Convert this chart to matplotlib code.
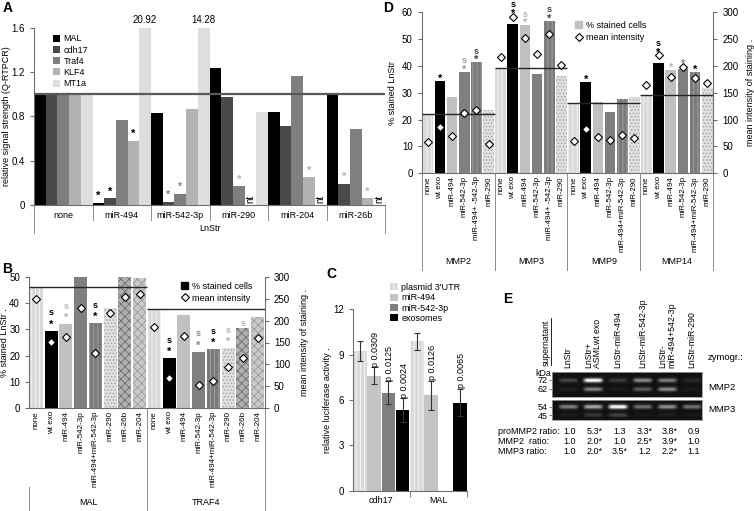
import numpy as np
import matplotlib
matplotlib.use('Agg')
import matplotlib.pyplot as plt
import matplotlib.transforms as mtransforms
from matplotlib.patches import Patch
from matplotlib.lines import Line2D

plt.rcParams['font.family'] = ['Liberation Sans', 'DejaVu Sans']
plt.rcParams['hatch.linewidth'] = 0.6
plt.rcParams['axes.edgecolor'] = '#6e6e6e'
plt.rcParams['xtick.color'] = '#6e6e6e'
plt.rcParams['ytick.color'] = '#6e6e6e'
plt.rcParams['xtick.labelcolor'] = 'black'
plt.rcParams['ytick.labelcolor'] = 'black'

W, H = 754, 511
nan = np.nan

# ---- panel A: Q-RTPCR ----
a_groups = ['none', 'miR-494', 'miR-542-3p', 'miR-290', 'miR-204', 'miR-26b']
a_genes = ['MAL', 'cdh17', 'Traf4', 'KLF4', 'MT1a']
a_colors = ['#000000', '#4a4a4a', '#7f7f7f', '#b3b3b3', '#dedede']
a_vals = {
    'MAL':   [1.0, 0.02, 0.83, 1.24, 0.84, 1.0],
    'cdh17': [1.0, 0.06, 0.03, 0.98, 0.71, 0.19],
    'Traf4': [1.0, 0.77, 0.10, 0.17, 1.17, 0.69],
    'KLF4':  [1.0, 0.58, 0.87, nan, 0.25, 0.06],
    'MT1a':  [1.0, 20.92, 14.28, 0.84, nan, nan],
}
# (group, gene, star colour)
a_stars = [(1, 0, 'black'), (1, 1, 'black'), (1, 3, 'black'),
           (2, 1, '#8a8a8a'), (2, 2, '#8a8a8a'),
           (3, 2, '#b5b5b5'), (4, 3, '#b5b5b5'),
           (5, 1, '#b5b5b5'), (5, 3, '#b5b5b5')]

# ---- panel B: staining, MAL / TRAF4 ----
b_groups = ['MAL', 'TRAF4']
b_cond = ['none', 'wt exo', 'miR-494', 'miR-542-3p', 'miR-494+miR-542-3p',
          'miR-290', 'miR-26b', 'miR-204']
b_pct = {'MAL':   [46.3, 29.5, 32.0, 50.0, 32.3, 38.0, 50.0, 49.7],
         'TRAF4': [37.8, 19.0, 35.5, 21.5, 22.4, 22.8, 30.6, 34.6]}
b_int = {'MAL':   [249, 152, 163, 229, 125, 217, 255, 262],
         'TRAF4': [186, 68, 165, 53, 62, 95, 115, 161]}
b_mark = {'MAL':   ['', 's*', 's*', '', 's*', '', '', ''],
          'TRAF4': ['', 's*', '', 's*', 's*', 's*', 's', '']}
b_mark_col = {'MAL':   [None, 'black', '#b5b5b5', None, 'black', None, None, None],
              'TRAF4': [None, 'black', None, '#8a8a8a', 'black', '#b5b5b5', '#b5b5b5', None]}

# ---- panel C: luciferase ----
c_groups = ['cdh17', 'MAL']
c_cond = ["plasmid 3'UTR", 'miR-494', 'miR-542-3p', 'exosomes']
c_mean = {'cdh17': [9.25, 7.62, 6.49, 5.34], 'MAL': [9.87, 6.31, nan, 5.82]}
c_err = {'cdh17': [0.68, 0.55, 0.74, 0.77], 'MAL': [0.55, 0.97, nan, 0.90]}
c_p = {'cdh17': ['', 'p 0.0309', 'p 0.0125', 'p 0.0024'],
       'MAL': ['', 'p 0.0126', '', 'p 0.0065']}

# ---- panel D: staining, MMPs ----
d_groups = ['MMP2', 'MMP3', 'MMP9', 'MMP14']
d_cond = ['none', 'wt exo', 'miR-494', 'miR-542-3p', 'miR-494+miR-542-3p', 'miR-290']
d_ticks = {'MMP2': ['none', 'wt exo', 'miR-494', 'miR-542-3p', 'miR-494+ -542-3p', 'miR-290'],
           'MMP3': ['none', 'wt exo', 'miR-494', 'miR-542-3p', 'miR-494+ -542-3p', 'miR-290'],
           'MMP9': d_cond, 'MMP14': d_cond}
d_pct = {'MMP2':  [22.2, 34.4, 28.6, 37.9, 41.3, 23.6],
         'MMP3':  [39.1, 55.5, 55.2, 37.0, 56.9, 36.3],
         'MMP9':  [26.3, 34.1, 26.6, 23.0, 27.7, 28.5],
         'MMP14': [29.2, 41.2, 38.4, 39.0, 37.6, 31.9]}
d_int = {'MMP2':  [59, 86, 70, 113, 118, 54],
         'MMP3':  [216, 292, 253, 222, 259, 202],
         'MMP9':  [61, 83, 67, 62, 72, 65],
         'MMP14': [164, 220, 180, 198, 177, 168]}
d_mark = {'MMP2':  ['', '*', '', 's*', 's*', ''],
          'MMP3':  ['', 's*', 's*', '', 's*', ''],
          'MMP9':  ['', '*', '', '', '', ''],
          'MMP14': ['', 's*', '*', '*', '*', '']}
d_mark_col = {'MMP2':  [None, 'black', None, '#9a9a9a', '#404040', None],
              'MMP3':  [None, 'black', '#b5b5b5', None, '#404040', None],
              'MMP9':  [None, 'black', None, None, None, None],
              'MMP14': [None, 'black', '#b5b5b5', '#8a8a8a', 'black', None]}

# ---- panel E: zymography ----
e_lanes = ['LnStr', 'LnStr+\nASMLwt exo', 'LnStr-miR-494', 'LnStr-miR-542-3p',
           'LnStr-\nmiR-494+542-3p', 'LnStr-miR-290']
e_mmp2_kda = [72, 62]
e_mmp2_level = [[0.22, 1.00, 0.18, 0.50, 0.45, 0.10],
                [0.06, 0.45, 0.04, 0.30, 0.50, 0.04]]
e_mmp3_kda = [54, 45]
e_mmp3_level = [[0.45, 0.62, 1.00, 0.40, 0.52, 0.40],
                [0.04, 0.15, 0.20, 0.03, 0.05, 0.03]]
e_ratio_names = ['proMMP2 ratio:', 'MMP2  ratio:', 'MMP3 ratio:']
e_ratios = [['1.0', '5.3*', '1.3', '3.3*', '3.8*', '0.9'],
            ['1.0', '2.0*', '1.0', '2.5*', '3.9*', '1.0'],
            ['1.0', '2.0*', '3.5*', '1.2', '2.2*', '1.1']]

cond_style = {
    'none': dict(color='#d9d9d9', edgecolor='#f6f6f6', hatch='||||'),
    'wt exo': dict(color='black'),
    'miR-494': dict(color='#c0c0c0'),
    'miR-542-3p': dict(color='#7f7f7f'),
    'miR-494+miR-542-3p': dict(color='#7a7a7a', edgecolor='#a8a8a8', hatch='||||'),
    'miR-290': dict(color='#e0e0e0', edgecolor='#a0a0a0', hatch='.....'),
    'miR-26b': dict(color='#b0b0b0', edgecolor='#6e6e6e', hatch='xxxx'),
    'miR-204': dict(color='#cacaca', edgecolor='#9a9a9a', hatch='xxxx'),
}
c_style = {
    "plasmid 3'UTR": cond_style['none'],
    'miR-494': dict(color='#c4c4c4'),
    'miR-542-3p': dict(color='#7f7f7f'),
    'exosomes': dict(color='black'),
}


def px_axes(fig, x0, y0, x1, y1):
    return fig.add_axes([x0 / W, 1 - y1 / H, (x1 - x0) / W, (y1 - y0) / H])


def rule(ax, x, y0, y1):
    tr = mtransforms.blended_transform_factory(ax.transData, ax.transAxes)
    ax.plot([x, x], [y0, y1], transform=tr, color='#8c8c8c', lw=0.7, clip_on=False)


def mark(ax, x, y, txt, color, star_off=0.9, s_off=11, fs=8):
    if '*' in txt:
        ax.annotate('*', (x, y), xytext=(0, star_off), textcoords='offset points',
                    ha='center', va='bottom', fontsize=fs, fontweight='bold', color=color,
                    annotation_clip=False)
        if 's' in txt:
            ax.annotate('s', (x, y), xytext=(0, s_off), textcoords='offset points',
                        ha='center', va='baseline', fontsize=6.5, fontweight='bold', color=color,
                        annotation_clip=False)
    elif txt == 's':
        ax.annotate('s', (x, y), xytext=(0, 1.5), textcoords='offset points',
                    ha='center', va='baseline', fontsize=6.5, fontweight='bold', color=color)


def stained_panel(ax, groups, conds, pct, inten, ticks, marks, mark_cols, ymax, fs_tick,
                  star_off, s_off, margin):
    n = len(conds)
    ax2 = ax.twinx()
    xt, xl = [], []
    for g, grp in enumerate(groups):
        xs = g * n + np.arange(n)
        for i, c in enumerate(conds):
            ax.bar(xs[i], pct[grp][i], width=0.88, linewidth=0, **cond_style[c])
        ax.hlines(pct[grp][0], g * n - 0.5, g * n + n - 0.5, color='#262626', lw=1.0, zorder=3)
        ax2.plot(xs, inten[grp], 'D', ls='none', mfc='white', mec='black', ms=4.3, mew=0.8)
        for i in range(n):
            if marks[grp][i]:
                base = max(pct[grp][i], inten[grp][i] * ymax / 300 + ymax * margin)
                mark(ax, xs[i], base, marks[grp][i], mark_cols[grp][i], star_off, s_off)
        xt.extend(xs)
        xl.extend(ticks[grp])
    ax.set_xlim(-0.5, len(groups) * n - 0.5)
    ax.set_ylim(0, ymax)
    ax2.set_ylim(0, 300)
    ax2.set_yticks(np.arange(0, 301, 50))
    ax.set_xticks(xt)
    ax.set_xticklabels(xl, rotation=90, fontsize=fs_tick)
    ax.tick_params(axis='x', length=0, pad=2)
    ax.tick_params(axis='y', labelsize=7, length=3)
    ax2.tick_params(axis='y', labelsize=7, length=3)
    for s in ['top', 'right']:
        ax.spines[s].set_visible(False)
    for s in ['top', 'left', 'bottom']:
        ax2.spines[s].set_visible(False)
    return ax2


fig = plt.figure(figsize=(W / 100, H / 100), dpi=100)

# ================= A =================
axA = px_axes(fig, 34, 28, 385, 205)
ng, nb = len(a_groups), len(a_genes)
bw = 1.0 / nb
for j, gene in enumerate(a_genes):
    vals = np.array(a_vals[gene], dtype=float)
    xs = np.arange(ng) + (j - (nb - 1) / 2) * bw
    axA.bar(xs, np.minimum(vals, 1.6), width=bw, color=a_colors[j], linewidth=0, label=gene)
    for g, v in enumerate(vals):
        if np.isnan(v):
            axA.text(xs[g], 0.015, 'nt', rotation=90, ha='center', va='bottom', fontsize=7)
        elif v > 1.6:
            axA.annotate(f'{v:.2f}', (xs[g], 1.6), xytext=(0, 2), textcoords='offset points',
                         ha='center', va='bottom', fontsize=7, annotation_clip=False)
for g, j, col in a_stars:
    x = g + (j - (nb - 1) / 2) * bw
    mark(axA, x, a_vals[a_genes[j]][g], '*', col, star_off=1.2)
axA.axhline(1.0, color='#5a5a5a', lw=1.6, zorder=3)
axA.set_xlim(-0.5, ng - 0.5)
axA.set_ylim(0, 1.6)
axA.set_yticks([0, 0.4, 0.8, 1.2, 1.6])
axA.set_yticklabels(['0', '0.4', '0.8', '1.2', '1.6'])
axA.set_xticks(np.arange(ng))
axA.set_xticklabels(a_groups, fontsize=6.5)
axA.tick_params(axis='x', length=0, pad=4)
axA.tick_params(axis='y', labelsize=7, length=3)
for s in ['top', 'right']:
    axA.spines[s].set_visible(False)
for b in np.arange(0.5, ng - 1):
    rule(axA, b, 0, -0.085)
rule(axA, -0.5, 0, -0.16)
rule(axA, ng - 0.5, 0, -0.16)
axA.text(0.5, -0.13, 'LnStr', transform=axA.transAxes, ha='center', va='center', fontsize=6.5)
axA.set_ylabel('relative signal strength (Q-RTPCR)', fontsize=6.5)
axA.yaxis.set_label_coords(-0.066, 0.5)
axA.legend(loc='upper left', bbox_to_anchor=(0.04, 0.99), frameon=False, fontsize=6.5,
           handlelength=0.8, handleheight=0.8, handletextpad=0.4, labelspacing=0.25, borderpad=0)

# ================= B =================
axB = px_axes(fig, 29, 277, 265, 408)
axB2 = stained_panel(axB, b_groups, b_cond, b_pct, b_int,
                     {g: b_cond for g in b_groups}, b_mark, b_mark_col, 50, 5.8,
                     0.9, 11, 0.03)
axB.set_yticks(np.arange(0, 51, 10))
nB = len(b_cond)
rule(axB, nB - 0.5, 0, -0.79)
rule(axB, 2 * nB - 0.5, 0, -0.79)
rule(axB, -0.5, -0.6, -0.79)
for g, grp in enumerate(b_groups):
    axB.text(g * nB + (nB - 1) / 2, -0.725, grp, transform=mtransforms.blended_transform_factory(
        axB.transData, axB.transAxes), ha='center', va='center', fontsize=6.5)
axB.set_ylabel('% stained LnStr .', fontsize=6.5)
axB.yaxis.set_label_coords(-0.083, 0.5)
axB2.set_ylabel('mean intensity of staining .', fontsize=6.5)
axB2.yaxis.set_label_coords(1.148, 0.5)
axB.legend(handles=[Patch(color='black', label='% stained cells'),
                    Line2D([], [], marker='D', ls='none', mfc='white', mec='black', ms=4.3,
                           mew=0.8, label='mean intensity')],
           loc='upper left', bbox_to_anchor=(0.625, 1.0), frameon=False, fontsize=6.5,
           handlelength=0.8, handleheight=0.8, handletextpad=0.4, labelspacing=0.35, borderpad=0)

# ================= C =================
axC = px_axes(fig, 352.7, 309.3, 467, 490.7)
nC = len(c_cond)
for g, grp in enumerate(c_groups):
    for i, c in enumerate(c_cond):
        m = c_mean[grp][i]
        if np.isnan(m):
            continue
        x = g * nC + i
        axC.bar(x, m, width=0.95, linewidth=0, label=c if g == 0 else None, **c_style[c])
        e = c_err[grp][i]
        axC.errorbar(x, m, yerr=e, fmt='none', ecolor='#333333', elinewidth=0.8,
                     capsize=2.5, capthick=0.8)
        if c_p[grp][i]:
            axC.annotate(c_p[grp][i], (x, m + e), xytext=(1, 0.5), textcoords='offset points',
                         rotation=90, ha='center', va='bottom', fontsize=6.5)
axC.set_xlim(-0.5, len(c_groups) * nC - 0.5)
axC.set_ylim(0, 12)
axC.set_yticks([0, 3, 6, 9, 12])
axC.set_xticks([g * nC + (nC - 1) / 2 for g in range(len(c_groups))])
axC.set_xticklabels(c_groups, fontsize=6.5)
axC.set_xticks([nC - 0.5, 2 * nC - 0.5], minor=True)
axC.tick_params(axis='x', which='major', length=0, pad=4)
axC.tick_params(axis='x', which='minor', length=4)
axC.tick_params(axis='y', labelsize=7, length=3)
for s in ['top', 'right']:
    axC.spines[s].set_visible(False)
axC.set_ylabel('relative luciferase activity .', fontsize=6.5)
axC.yaxis.set_label_coords(-0.18, 0.5)
axC.legend(loc='upper left', bbox_to_anchor=(0.29, 1.17), frameon=False, fontsize=6.5,
           handlelength=0.8, handleheight=0.8, handletextpad=0.4, labelspacing=0.15, borderpad=0)

# ================= D =================
axD = px_axes(fig, 421.7, 12.3, 713.3, 173.3)
axD2 = stained_panel(axD, d_groups, d_cond, d_pct, d_int, d_ticks, d_mark, d_mark_col, 60, 5.7,
                     -2, 6.2, 0.004)
axD.set_yticks(np.arange(0, 61, 10))
nD = len(d_cond)
for g in range(len(d_groups) + 1):
    rule(axD, g * nD - 0.5, 0, -0.6)
for g, grp in enumerate(d_groups):
    axD.text(g * nD + (nD - 1) / 2, -0.55, grp, transform=mtransforms.blended_transform_factory(
        axD.transData, axD.transAxes), ha='center', va='center', fontsize=6.5)
axD.set_ylabel('% stained LnStr', fontsize=6.5)
axD.yaxis.set_label_coords(-0.085, 0.5)
axD2.set_ylabel('mean intensity of staining .', fontsize=6.5)
axD2.yaxis.set_label_coords(1.112, 0.5)
axD.legend(handles=[Patch(color='#c0c0c0', label='% stained cells'),
                    Line2D([], [], marker='D', ls='none', mfc='white', mec='black', ms=4.3,
                           mew=0.8, label='mean intensity')],
           loc='upper left', bbox_to_anchor=(0.51, 0.975), frameon=False, fontsize=6.5,
           handlelength=0.8, handleheight=0.8, handletextpad=0.4, labelspacing=0.35, borderpad=0)

# ================= E =================
x_lo, x_hi = -0.66, 5.39
nl = len(e_lanes)


def gel(ax, kda, levels, top, bot):
    xs = np.linspace(x_lo, x_hi, 400)
    ys = np.linspace(top, bot, 90)
    X, Y = np.meshgrid(xs, ys)
    img = np.full(X.shape, 0.07)
    for k, kd in enumerate(kda):
        for i in range(nl):
            img += levels[k][i] * np.exp(-((X - i) / 0.38) ** 6) * np.exp(-((Y - kd) / 2.3) ** 2)
    ax.imshow(np.clip(img, 0, 1), extent=[x_lo, x_hi, bot, top], aspect='auto',
              cmap='gray', vmin=0, vmax=1, origin='upper', interpolation='bilinear')
    ax.set_xlim(x_lo, x_hi)
    ax.set_ylim(bot, top)
    ax.set_yticks(kda)
    ax.set_yticklabels([str(k) for k in kda], fontsize=6.5)
    ax.tick_params(axis='y', length=2, pad=1, color='#888888')
    for s in ax.spines.values():
        s.set_color('#9a9a9a')
        s.set_linewidth(0.6)


g2 = px_axes(fig, 551.7, 371.7, 701.7, 396.7)
gel(g2, e_mmp2_kda, e_mmp2_level, 81.2, 53.4)
g2.xaxis.tick_top()
g2.set_xticks(np.arange(nl))
g2.set_xticklabels(e_lanes, rotation=90, fontsize=6.3, va='bottom', ha='center',
                   multialignment='left', linespacing=0.95)
g2.tick_params(axis='x', length=0, pad=3)
g3 = px_axes(fig, 551.7, 400, 701.7, 420)
gel(g3, e_mmp3_kda, e_mmp3_level, 61.3, 39.6)
g3.set_xticks([])

fig.text(551 / W, 1 - 373 / H, 'kDa', ha='right', va='center', fontsize=6.3)
fig.text(546 / W, 1 - 366 / H, 'supernatant', rotation=90, ha='center', va='bottom', fontsize=6.3)
fig.add_artist(Line2D([550.5 / W, 550.5 / W], [1 - 365 / H, 1 - 318 / H], color='black', lw=0.6))
fig.text(708 / W, 1 - 357 / H, 'zymogr.:', ha='left', va='center', fontsize=6.8)
fig.text(708 / W, 1 - 387 / H, 'MMP2', ha='left', va='center', fontsize=6.8)
fig.text(708 / W, 1 - 410 / H, 'MMP3', ha='left', va='center', fontsize=6.8)
tr_e = mtransforms.blended_transform_factory(g3.transData, fig.transFigure)
for r, (name, row) in enumerate(zip(e_ratio_names, e_ratios)):
    yy = 1 - (432 + 10 * r) / H
    fig.text(498 / W, yy, name, ha='left', va='center', fontsize=6.5)
    for i, v in enumerate(row):
        fig.text(i + 0.08, yy, v, transform=tr_e, ha='center', va='center', fontsize=6.5)

# panel letters
for lab, x, y in [('A', 3, 1), ('B', 2, 262), ('C', 326, 267), ('D', 383, 1), ('E', 503, 292)]:
    fig.text(x / W, 1 - y / H, lab, fontsize=10, fontweight='bold', ha='left', va='top')

fig.savefig('out.png', dpi=100)
